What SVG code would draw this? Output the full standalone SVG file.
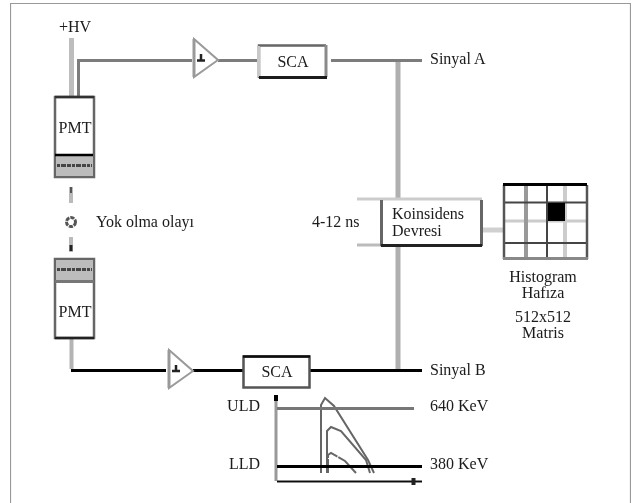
<svg xmlns="http://www.w3.org/2000/svg" width="632" height="503" viewBox="0 0 632 503">
<style>
text{font-family:"Liberation Serif","Times New Roman",serif;font-size:16px;fill:#1a1a1a}
.m{text-anchor:middle}
.r{text-anchor:end}
.l{fill:none;stroke-linecap:butt}
.g{stroke:#7c7c7c;stroke-width:3}
.k{stroke:#000;stroke-width:3}
.box{fill:#fff;stroke:none}
.tri{fill:#fff;stroke:#9a9a9a;stroke-width:2}
.curve{fill:none;stroke:#666;stroke-width:2}
</style>
<defs><filter id="soft" x="0" y="0" width="100%" height="100%"><feGaussianBlur stdDeviation="0.35"/></filter></defs>
<rect width="632" height="503" fill="#fff"/>
<g filter="url(#soft)">
<path d="M10.5 503V3.5H630.5V503" fill="none" stroke="#999" stroke-width="1.2"/>
<g id="connectors">
<path class="l" d="M71.5 38V97" stroke="#bdbdbd" stroke-width="5"/>
<path class="l g" d="M78.5 97V60.500H192"/>
<path class="l g" d="M218 60.500H258"/>
<path class="l g" d="M331 60.500H422"/>
<path class="l" d="M398 62V369" stroke="#b0b0b0" stroke-width="5"/>
<path class="l" d="M71.500 338V369" stroke="#b4b4b4" stroke-width="4"/>
<path class="l k" d="M71 370.500H166"/>
<path class="l k" d="M193 370.500H243"/>
<path class="l k" d="M310 370.500H422"/>
<path class="l" d="M482 230H503" stroke="#d0d0d0" stroke-width="5"/>
<path class="l" d="M357 199H381" stroke="#ccc" stroke-width="3"/>
<path class="l" d="M357 245H381" stroke="#bbb" stroke-width="3"/>
</g>
<g id="hv"><text x="59" y="32">+HV</text></g>
<g id="pmt-top">
<rect x="55" y="97" width="39" height="80" fill="#fff" stroke="#666" stroke-width="2.500"/>
<rect x="56" y="155" width="37" height="21" fill="#bcbcbc"/>
<path d="M55 155H93" stroke="#000" stroke-width="2.500"/>
<path d="M57 165.500H92" stroke="#444" stroke-width="3" stroke-dasharray="3 1 5 1 4 1"/>
<path d="M55 97H94" stroke="#333" stroke-width="2.500"/>
<text class="m" x="75" y="133">PMT</text>
</g>
<g id="pmt-bottom">
<rect x="55" y="259" width="39" height="79" fill="#fff" stroke="#666" stroke-width="2.500"/>
<rect x="56" y="260" width="37" height="21" fill="#bcbcbc"/>
<path d="M55 281.500H94" stroke="#777" stroke-width="3"/>
<path d="M57 269.500H92" stroke="#444" stroke-width="3" stroke-dasharray="3 1 5 1 4 1"/>
<path d="M55 338H94" stroke="#222" stroke-width="2.500"/>
<text class="m" x="75" y="317">PMT</text>
</g>
<g id="annihilation">
<path d="M71 187V203" stroke="#bbb" stroke-width="4"/>
<path d="M71 187V193" stroke="#555" stroke-width="2"/>
<circle cx="71" cy="222" r="4.500" fill="#fff" stroke="#555" stroke-width="3" stroke-dasharray="4 1"/>
<path d="M71 237V252" stroke="#bbb" stroke-width="4"/>
<path d="M71 245V251" stroke="#222" stroke-width="3"/>
<text x="96" y="227">Yok olma olayı</text>
</g>
<g id="amp-top">
<path class="tri" d="M194 39V77L218 60Z"/>
<path d="M194 39V77" stroke="#999" stroke-width="3"/>
<path d="M197 60.500H205M201 54V60" stroke="#222" stroke-width="2.500"/>
</g>
<g id="amp-bottom">
<path class="tri" d="M169 350V388L193 371Z"/>
<path d="M169 350V388" stroke="#999" stroke-width="3"/>
<path d="M172 371H180M176 365V371" stroke="#222" stroke-width="2.500"/>
</g>
<g id="sca-top">
<rect x="259" y="46" width="67" height="32" class="box"/>
<path d="M259 78V45.500H326" fill="none" stroke="#666" stroke-width="2.500"/>
<path d="M258.500 46V77" stroke="#c8c8c8" stroke-width="3" fill="none"/>
<path d="M326 45V77" stroke="#8a8a8a" stroke-width="3"/>
<path d="M259 77.500H327" stroke="#1a1a1a" stroke-width="3"/>
<text class="m" x="293" y="67">SCA</text>
</g>
<g id="sca-bottom">
<rect x="243.500" y="356.500" width="66" height="31" fill="#fff" stroke="#555" stroke-width="2.500"/>
<path d="M243 356.500H310" stroke="#111" stroke-width="2.500"/>
<text class="m" x="277" y="377">SCA</text>
</g>
<g id="coincidence">
<rect x="381" y="200" width="101" height="46" class="box"/>
<path d="M381 199H482" stroke="#ccc" stroke-width="3"/>
<path d="M381.500 200V246M481.500 200V246" stroke="#666" stroke-width="3"/>
<path d="M381 245.500H482" stroke="#222" stroke-width="3"/>
<text x="392" y="219">Koinsidens</text>
<text x="392" y="236">Devresi</text>
<text x="312" y="227">4-12 ns</text>
</g>
<g id="matrix">
<rect x="504" y="185" width="83" height="73" fill="#fff"/>
<path d="M504 221H587" stroke="#ccc" stroke-width="3"/>
<path d="M526 185V258" stroke="#999" stroke-width="4"/>
<path d="M565 185V258" stroke="#ccc" stroke-width="4"/>
<path d="M547 185V258" stroke="#444" stroke-width="2"/>
<path d="M504 202.500H587M504 243H587" stroke="#444" stroke-width="2"/>
<rect x="548" y="203" width="17" height="18" fill="#000"/>
<path d="M504 185V259M587 185V259" stroke="#555" stroke-width="2.500"/>
<path d="M503 184.500H587" stroke="#000" stroke-width="3"/>
<path d="M503 258.500H588" stroke="#888" stroke-width="3"/>
<text class="m" x="543" y="282">Histogram</text>
<text class="m" x="543" y="298">Hafıza</text>
<text class="m" x="543" y="322">512x512</text>
<text class="m" x="543" y="338">Matris</text>
</g>
<g id="signals">
<text x="430" y="64">Sinyal A</text>
<text x="430" y="375">Sinyal B</text>
</g>
<g id="spectrum">
<path d="M276 397V481" stroke="#999" stroke-width="3"/>
<path d="M276 395V401" stroke="#000" stroke-width="4"/>
<path d="M277 481.500H422" stroke="#111" stroke-width="2"/>
<path d="M413.500 478V485" stroke="#222" stroke-width="4"/>
<path class="curve" d="M321 473V405L325 398L334 406L368 460L374 473" stroke="#777" stroke-width="2.500"/>
<path class="curve" d="M327 473V431L331 427L341 431L366 460L370 473"/>
<path class="curve" d="M328 473V455L331 453L345 461L356 473" stroke-dasharray="14 1"/>
<path d="M277 408.500H414" stroke="#777" stroke-width="3"/>
<path d="M277 466.500H422" stroke="#000" stroke-width="3"/>
<text class="r" x="260" y="411">ULD</text>
<text class="r" x="260" y="469">LLD</text>
<text x="430" y="411">640 KeV</text>
<text x="430" y="469">380 KeV</text>
</g>
</g>
</svg>
